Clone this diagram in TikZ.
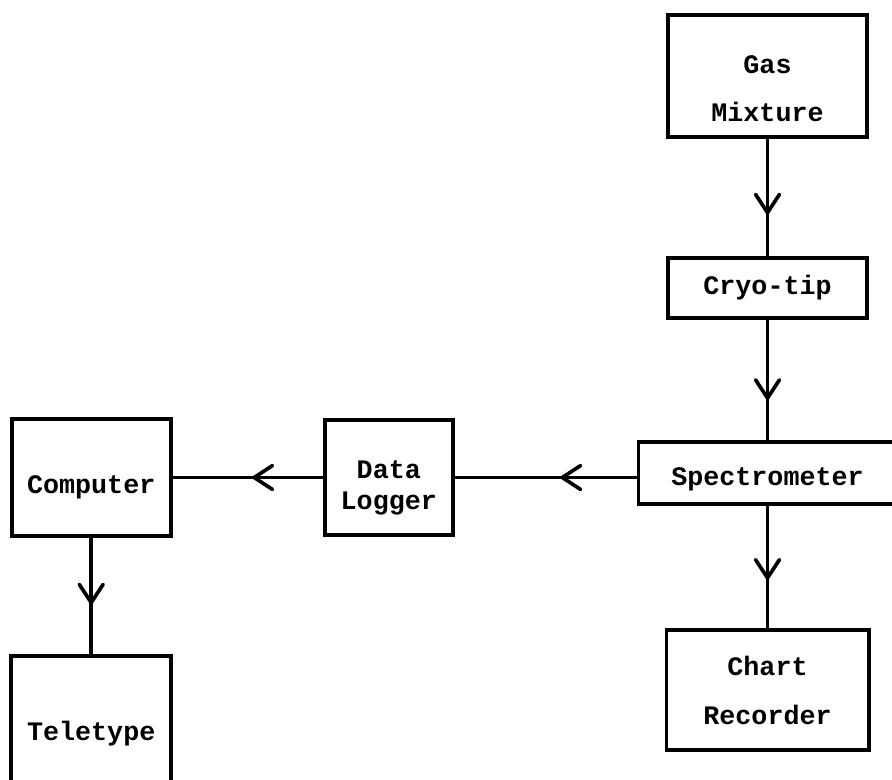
\documentclass[tikz,border=0pt]{standalone}
\usepackage{fontspec}
\setmonofont{Liberation Mono}
\usetikzlibrary{positioning}
\usetikzlibrary{arrows.meta}
\usetikzlibrary{decorations.markings}

\begin{document}
\begin{tikzpicture}[x=0.025cm, y=-0.025cm,
    unit/.style={rectangle, draw=black, line width=2.8pt, fill=white, inner sep=2pt, outer sep=0pt, align=center,
                 font=\ttfamily\bfseries\fontsize{19}{22}\selectfont},
    flow/.style={line width=2.6pt, postaction={decorate},
                 decoration={markings, mark=at position #1 with {\arrow{Straight Barb[length=13pt, width=17pt, line width=2.6pt, round]}}}},
    flow/.default=0.6]

            \useasboundingbox[fill=white] (0,0) rectangle (892,780);

            \node[unit, minimum width=4.975cm, minimum height=3.05cm] (gas) at (767.5,76)
                {\rule{0pt}{31pt}Gas\\[12pt]Mixture};
            \node[unit, minimum width=4.975cm, minimum height=1.5cm, below=3.025cm of gas] (cryo)
                {Cryo-tip};
            \node[unit, minimum width=6.45cm, minimum height=1.55cm, below=3.1cm of cryo] (spec)
                {\rule{0pt}{21pt}Spectrometer};
            \node[unit, minimum width=5.05cm, minimum height=3.0cm, below=3.15cm of spec] (chart)
                {Chart\\[13pt]Recorder};
            \node[unit, minimum width=3.2cm, minimum height=2.875cm, left=4.64cm of spec, yshift=-0.11cm] (logger)
                {\rule{0pt}{27pt}Data\\Logger};
            \node[unit, minimum width=3.975cm, minimum height=2.925cm, left=3.85cm of logger] (comp)
                {\rule{0pt}{27pt}Computer};
            \node[unit, minimum width=4.0cm, minimum height=3.9cm, below=3.0cm of comp] (tty)
                {Teletype};

            \draw[flow=0.64] (gas.south) -- (cryo.north);
            \draw[flow=0.66] (cryo.south) -- (cryo.south |- spec.north);
            \draw[flow=0.6] (cryo.south |- spec.south) -- (cryo.south |- chart.north);
            \draw[flow=0.42] (spec.west |- logger.east) -- (logger.east);
            \draw[flow=0.47] (logger.west) -- (logger.west -| comp.east);
            \draw[flow=0.57] (comp.south) -- (tty.north);
        \end{tikzpicture}
\end{document}
